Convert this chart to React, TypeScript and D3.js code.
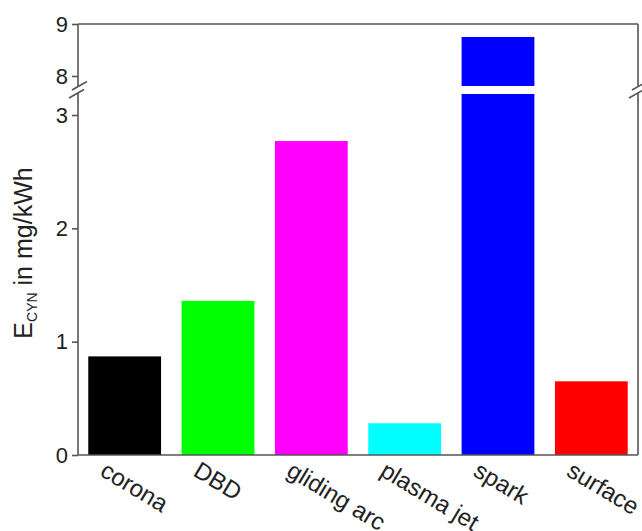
import React, { useEffect, useRef } from 'react';
import * as d3 from 'd3';

const categories = ['corona', 'DBD', 'gliding arc', 'plasma jet', 'spark', 'surface'];
const values = [0.87, 1.36, 2.77, 0.28, 8.75, 0.65];
const colors = ['#000000', '#00ff00', '#ff00ff', '#00ffff', '#0000ff', '#ff0000'];
const lowerTicks = [0, 1, 2, 3];
const upperTicks = [8, 9];

const App = () => {
  const svgRef = useRef(null);

  useEffect(() => {
    const svg = d3.select(svgRef.current);
    svg.selectAll('*').remove();

    const left = 78;
    const right = 638;
    const bottom = 455;
    const top = 24;
    const lowBreak = 93; // top of lower segment
    const upBreak = 86; // bottom of upper segment
    const axisColor = '#555';
    const font = '"Liberation Sans", Arial, sans-serif';

    const x = d3.scaleBand()
      .domain(categories)
      .range([left, right])
      .paddingInner(0.22)
      .paddingOuter(0.11);

    const yLow = d3.scaleLinear().domain([0, 3]).range([bottom, 115]);
    const yUp = d3.scaleLinear().domain([8, 9]).range([76, top]);

    const data = categories.map((c, i) => ({ c, v: values[i], color: colors[i] }));

    // lower bar parts
    svg.selectAll('.bar-low')
      .data(data)
      .enter().append('rect')
      .attr('x', d => x(d.c))
      .attr('width', x.bandwidth())
      .attr('y', d => Math.max(yLow(d.v), lowBreak + 1))
      .attr('height', d => bottom - Math.max(yLow(d.v), lowBreak + 1))
      .attr('fill', d => d.color);

    // upper bar parts
    svg.selectAll('.bar-up')
      .data(data.filter(d => d.v > 8))
      .enter().append('rect')
      .attr('x', d => x(d.c))
      .attr('width', x.bandwidth())
      .attr('y', d => yUp(d.v))
      .attr('height', d => upBreak - yUp(d.v))
      .attr('fill', d => d.color);

    // frame
    const frame = svg.append('g')
      .attr('stroke', axisColor)
      .attr('stroke-width', 1.6)
      .attr('fill', 'none');
    frame.append('line').attr('x1', left).attr('x2', right).attr('y1', bottom).attr('y2', bottom);
    frame.append('line').attr('x1', left).attr('x2', right).attr('y1', top).attr('y2', top);
    [left, right].forEach(xx => {
      frame.append('line').attr('x1', xx).attr('x2', xx).attr('y1', top).attr('y2', upBreak);
      frame.append('line').attr('x1', xx).attr('x2', xx).attr('y1', lowBreak).attr('y2', bottom);
      frame.append('line').attr('x1', xx - 6).attr('y1', 90).attr('x2', xx + 9).attr('y2', 81.5);
      frame.append('line').attr('x1', xx - 9).attr('y1', 98).attr('x2', xx + 6).attr('y2', 89.5);
    });

    const styleAxis = g => {
      g.select('.domain').remove();
      g.selectAll('line').attr('stroke', axisColor).attr('stroke-width', 1.6);
      g.selectAll('text')
        .attr('fill', '#222')
        .style('font-family', font)
        .style('font-size', '22px');
    };

    svg.append('g')
      .attr('transform', `translate(${left},0)`)
      .call(d3.axisLeft(yLow).tickValues(lowerTicks).tickSize(6).tickPadding(4).tickFormat(d3.format('d')))
      .call(styleAxis);

    svg.append('g')
      .attr('transform', `translate(${left},0)`)
      .call(d3.axisLeft(yUp).tickValues(upperTicks).tickSize(6).tickPadding(4).tickFormat(d3.format('d')))
      .call(styleAxis);

    // x labels
    svg.selectAll('.xlabel')
      .data(categories)
      .enter().append('text')
      .attr('transform', d => `translate(${x(d) + x.bandwidth() / 2 - 26},475) rotate(31)`)
      .attr('fill', '#222')
      .style('font-family', font)
      .style('font-size', '24px')
      .text(d => d);

    // y title
    const title = svg.append('text')
      .attr('transform', 'translate(32,253) rotate(-90)')
      .attr('text-anchor', 'middle')
      .attr('fill', '#222')
      .style('font-family', font)
      .style('font-size', '25px');
    title.append('tspan').text('E');
    title.append('tspan').attr('dy', 5).style('font-size', '14px').text('CYN');
    title.append('tspan').attr('dy', -5).text(' in mg/kWh');
  }, []);

  return (
    <svg
      ref={svgRef}
      width={642}
      height={531}
      style={{ position: 'absolute', left: 0, top: 0, background: '#fff' }}
    />
  );
};

export default App;
